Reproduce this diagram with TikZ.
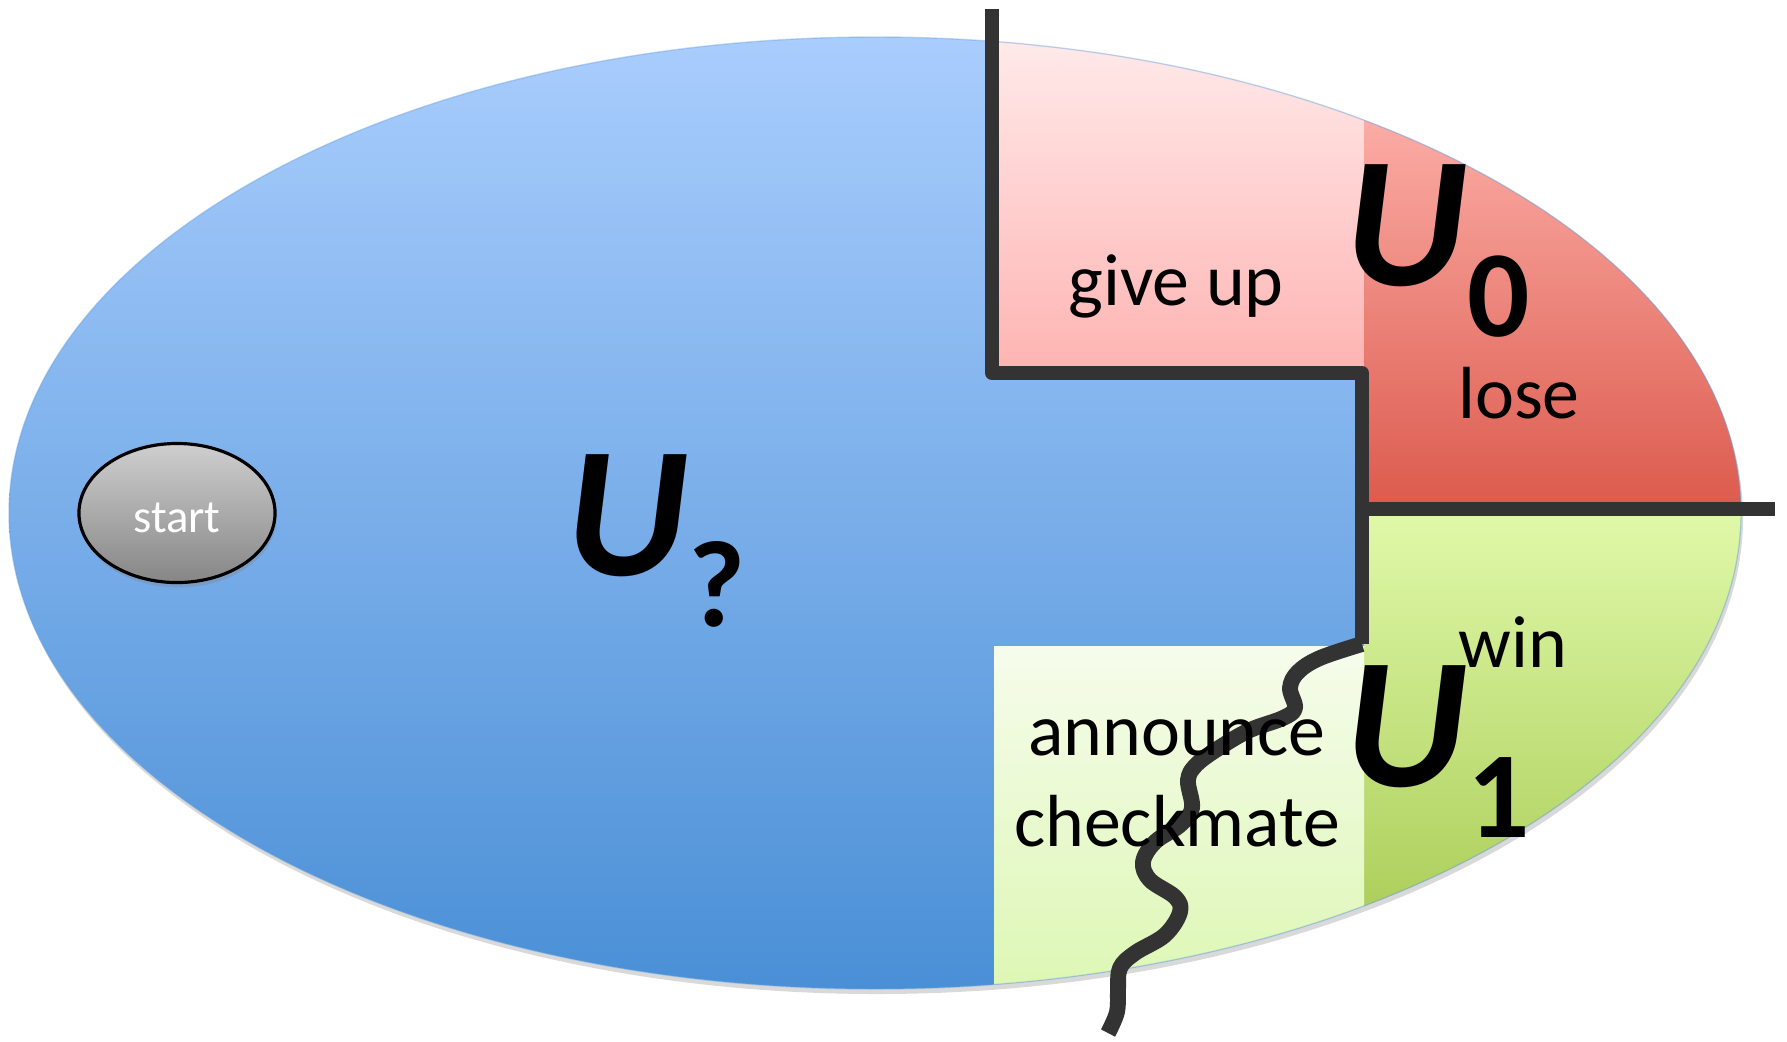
\documentclass[tikz,border=0pt]{standalone}
\usepackage{fontspec}
\setmainfont{Carlito}
\usetikzlibrary{shapes.geometric, positioning, calc, shadows}
\definecolor{bluetop}{HTML}{A9CDFD}
\definecolor{bluebot}{HTML}{4A8FD6}
\definecolor{pinktop}{HTML}{FFEAEA}
\definecolor{pinkbot}{HTML}{FEB4B2}
\definecolor{redtop}{HTML}{FBACA5}
\definecolor{redbot}{HTML}{DC5A4D}
\definecolor{greentop}{HTML}{E0F9AA}
\definecolor{greenbot}{HTML}{AECF5C}
\definecolor{palegtop}{HTML}{F6FCEC}
\definecolor{palegbot}{HTML}{DDF7B4}
\definecolor{wallgray}{HTML}{333333}
\newcommand{\usub}[1]{{\bfseries\itshape U\/}\raisebox{-14.5pt}{\fontsize{35}{35}\selectfont\bfseries #1}}

\begin{document}
\begin{tikzpicture}[x=0.01cm, y=-0.01cm,
    every node/.style={font=\fontsize{21}{25.6}\selectfont, inner sep=0pt},
    lbl/.style={align=center, anchor=base},
    bigU/.style={font=\fontsize{53}{53}\selectfont, anchor=base west},
    wall/.style={draw=wallgray, line width=4pt, line join=round},
    startnode/.style={ellipse, draw=black, line width=0.9pt,
                      top color=gray!38, bottom color=gray!105!black!100,
                      minimum width=1.96cm, minimum height=1.39cm,
                      text=white, font=\fontsize{13.3}{14}\selectfont,
                      text height=11pt, text depth=0pt,
                      drop shadow={opacity=0.3, shadow xshift=0.4pt, shadow yshift=-1.4pt}}
]
    \useasboundingbox (0,0) rectangle (1787,1041);

    % the board
    \fill[black, opacity=0.15] (877,518) ellipse [x radius=866, y radius=476];
    \begin{scope}
        \clip (875,513) ellipse [x radius=866, y radius=476];
        \shade[top color=bluetop, bottom color=bluebot] (0,37) rectangle (1787,990);
        \shade[top color=pinktop, bottom color=pinkbot] (994,37) rectangle (1364,373);
        \shade[top color=redtop, bottom color=redbot] (1364,120) rectangle (1750,509);
        \shade[top color=greentop, bottom color=greenbot] (1364,509) rectangle (1750,906);
        \shade[top color=palegtop, bottom color=palegbot] (994,646) rectangle (1364,990);
    \end{scope}
    \draw[bluebot!85, line width=0.4pt, opacity=0.4] (875,513) ellipse [x radius=866, y radius=476];

    % borders between the sets
    \coordinate (top) at (992,9);
    \coordinate (stepa) at (992,373);
    \coordinate (stepb) at (1362,373);
    \coordinate (stepc) at (1362,644);
    \coordinate (midright) at (1362,509);
    \coordinate (rightend) at (1775,509);
    \draw[wall] (top) -- (stepa) -- (stepb) -- (stepc);
    \draw[wall, line width=4.5pt] plot[smooth, tension=0.6] coordinates {(1362,644) (1320,658) (1298,672)
        (1290,688) (1295,708) (1283,718) (1250,730) (1222,746) (1197,764) (1188,780)
        (1192,808) (1180,825) (1155,842) (1143,862) (1150,880) (1175,897) (1180,912)
        (1165,935) (1135,953) (1120,968) (1118,990) (1117,1012) (1108,1033)};
    \draw[wall] (midright) -- (rightend);

    \node[startnode] (start) at (177,513) {start};

    \node[bigU] (uq) at (566,575) {\usub{?}};
    \node[bigU] (uzero) at (1345,285) {\usub{0}};
    \node[bigU] (uone) at (1345,786) {\usub{1}};

    \node[lbl] (giveup) at (1176,305) {give up};
    \node[lbl] (lose) at (1519,418) {lose};
    \node[lbl] (win) at (1513,667) {win};
    \node[lbl] (announce) at (1177,846) {announce\\checkmate};
\end{tikzpicture}
\end{document}
